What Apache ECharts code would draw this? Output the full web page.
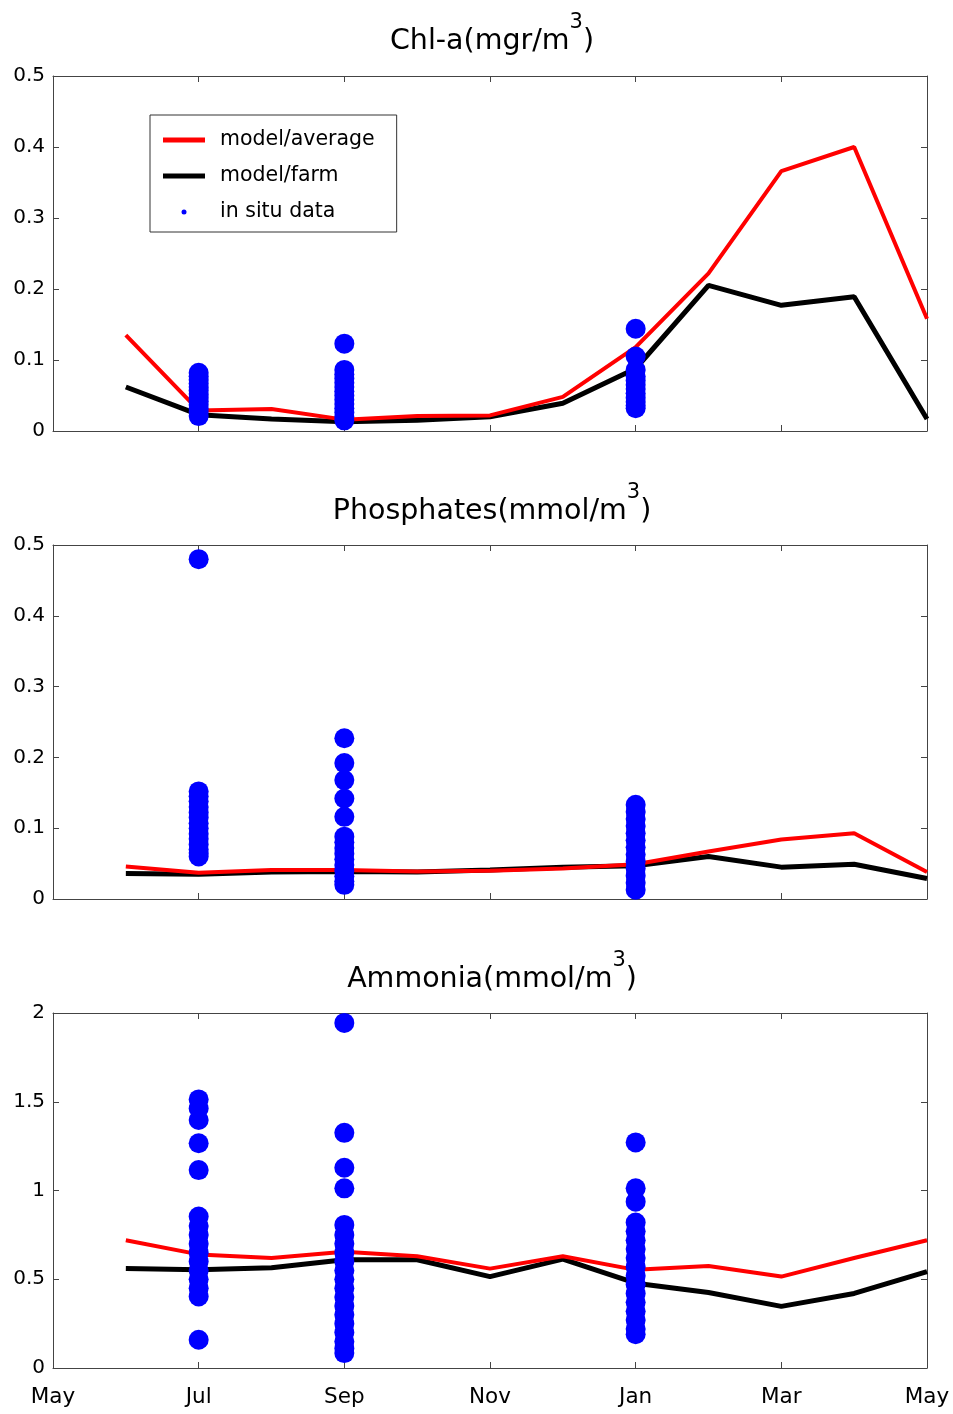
<!DOCTYPE html>
<html>
<head>
<meta charset="utf-8">
<script src="https://cdn.jsdelivr.net/npm/echarts@6/dist/echarts.min.js"></script>
<style>
html,body{margin:0;padding:0;background:#fff;}
#chart{width:953px;height:1414px;}
</style>
</head>
<body>
<div id="chart"></div>
<script>
// x positions: 0 = May, 1 = Jun, ... 12 = May (next year)
const tickLabels = ['May', 'Jul', 'Sep', 'Nov', 'Jan', 'Mar', 'May'];
const modelMonths = [1, 2, 3, 4, 5, 6, 7, 8, 9, 10, 11, 12];
const sampleMonths = [2, 4, 8]; // Jul, Sep, Jan

// Chl-a (mgr/m3)
const chlAvg  = [0.135, 0.029, 0.031, 0.016, 0.021, 0.022, 0.048, 0.118, 0.222, 0.366, 0.400, 0.158];
const chlFarm = [0.062, 0.023, 0.017, 0.013, 0.015, 0.020, 0.039, 0.088, 0.205, 0.177, 0.189, 0.017];
const chlJul = [0.082, 0.077, 0.072, 0.067, 0.062, 0.057, 0.052, 0.047, 0.042, 0.037, 0.032, 0.027, 0.021];
const chlSep = [0.123, 0.086, 0.080, 0.074, 0.068, 0.062, 0.056, 0.050, 0.044, 0.038, 0.032, 0.026, 0.020, 0.015];
const chlJan = [0.144, 0.105, 0.086, 0.077, 0.071, 0.065, 0.059, 0.053, 0.047, 0.041, 0.036, 0.032];

// Phosphates (mmol/m3)
const phoAvg  = [0.046, 0.037, 0.041, 0.041, 0.039, 0.040, 0.043, 0.049, 0.067, 0.084, 0.093, 0.038];
const phoFarm = [0.036, 0.035, 0.038, 0.039, 0.038, 0.041, 0.045, 0.047, 0.060, 0.045, 0.049, 0.029];
const phoJul = [0.480, 0.152, 0.145, 0.138, 0.130, 0.122, 0.115, 0.107, 0.100, 0.092, 0.085, 0.077, 0.070, 0.065, 0.060];
const phoSep = [0.227, 0.192, 0.168, 0.142, 0.116, 0.088, 0.080, 0.072, 0.064, 0.056, 0.048, 0.040, 0.032, 0.025, 0.020];
const phoJan = [0.133, 0.123, 0.113, 0.103, 0.093, 0.083, 0.073, 0.063, 0.053, 0.043, 0.033, 0.023, 0.013];

// Ammonia (mmol/m3)
const nh4Avg  = [0.72, 0.64, 0.62, 0.655, 0.63, 0.56, 0.63, 0.553, 0.575, 0.515, 0.62, 0.72];
const nh4Farm = [0.56, 0.553, 0.565, 0.61, 0.61, 0.515, 0.613, 0.478, 0.425, 0.347, 0.42, 0.543];
const nh4Jul = [1.513, 1.462, 1.397, 1.266, 1.115, 0.853, 0.80, 0.75, 0.70, 0.65, 0.60, 0.55, 0.50, 0.45, 0.403, 0.159];
const nh4Sep = [1.944, 1.325, 1.128, 1.012, 0.806, 0.75, 0.70, 0.65, 0.60, 0.55, 0.50, 0.45, 0.40, 0.35, 0.30, 0.25, 0.20, 0.15, 0.11, 0.084];
const nh4Jan = [1.271, 1.012, 0.937, 0.82, 0.77, 0.72, 0.67, 0.62, 0.57, 0.52, 0.47, 0.42, 0.37, 0.32, 0.27, 0.22, 0.19];

const FONT = 'DejaVu Sans';
const AXIS_COLOR = '#444';

const panels = [
  { name: 'Chl-a(mgr/m', top: 76, height: 355, max: 0.5, interval: 0.1, avg: chlAvg, farm: chlFarm, obs: [chlJul, chlSep, chlJan], titleTop: 7 },
  { name: 'Phosphates(mmol/m', top: 545, height: 354, max: 0.5, interval: 0.1, avg: phoAvg, farm: phoFarm, obs: [phoJul, phoSep, phoJan], titleTop: 477 },
  { name: 'Ammonia(mmol/m', top: 1013, height: 355, max: 2, interval: 0.5, avg: nh4Avg, farm: nh4Farm, obs: [nh4Jul, nh4Sep, nh4Jan], titleTop: 945 }
];

const grids = [], xAxes = [], yAxes = [], series = [], titles = [];
panels.forEach((p, i) => {
  grids.push({ left: 53, top: p.top, width: 874, height: p.height });
  const tick = { show: true, inside: true, length: 6, lineStyle: { color: AXIS_COLOR } };
  const line = { show: true, onZero: false, lineStyle: { color: AXIS_COLOR, width: 1 } };
  xAxes.push({
    gridIndex: i, type: 'value', min: 0, max: 12, interval: 2, position: 'bottom',
    axisLine: line, axisTick: tick, splitLine: { show: false },
    axisLabel: {
      show: i === 2, margin: 18, color: '#000', fontSize: 21.5, fontFamily: FONT,
      formatter: v => tickLabels[v / 2]
    }
  });
  xAxes.push({
    gridIndex: i, type: 'value', min: 0, max: 12, interval: 2, position: 'top',
    axisLine: line, axisTick: tick, splitLine: { show: false }, axisLabel: { show: false }
  });
  yAxes.push({
    gridIndex: i, type: 'value', min: 0, max: p.max, interval: p.interval, position: 'left',
    axisLine: line, axisTick: tick, splitLine: { show: false },
    axisLabel: { color: '#000', fontSize: 20, fontFamily: FONT, margin: 8 }
  });
  yAxes.push({
    gridIndex: i, type: 'value', min: 0, max: p.max, interval: p.interval, position: 'right',
    axisLine: line, axisTick: tick, splitLine: { show: false }, axisLabel: { show: false }
  });
  const xi = 2 * i, yi = 2 * i;
  series.push({
    name: 'model/average', type: 'line', xAxisIndex: xi, yAxisIndex: yi,
    data: modelMonths.map((m, k) => [m, p.avg[k]]),
    symbol: 'none', lineStyle: { color: '#ff0000', width: 4 }, itemStyle: { color: '#ff0000' }, z: 3
  });
  series.push({
    name: 'model/farm', type: 'line', xAxisIndex: xi, yAxisIndex: yi,
    data: modelMonths.map((m, k) => [m, p.farm[k]]),
    symbol: 'none', lineStyle: { color: '#000000', width: 5 }, itemStyle: { color: '#000000' }, z: 2
  });
  const pts = [];
  p.obs.forEach((vals, j) => vals.forEach(v => pts.push([sampleMonths[j], v])));
  series.push({
    name: 'in situ data', type: 'scatter', xAxisIndex: xi, yAxisIndex: yi,
    data: pts, symbol: 'circle', symbolSize: 20, itemStyle: { color: '#0000ff', opacity: 1 }, z: 4
  });
  titles.push({
    text: '{a|' + p.name + '}{s|3}{a|)}',
    left: 487, textAlign: 'center', top: p.titleTop,
    textStyle: {
      rich: {
        a: { fontSize: 28.5, fontFamily: FONT, color: '#000', lineHeight: 60, fontWeight: 'normal' },
        s: { fontSize: 21, fontFamily: FONT, color: '#000', verticalAlign: 'top', fontWeight: 'normal' }
      }
    }
  });
});

const chart = echarts.init(document.getElementById('chart'), null, { renderer: 'canvas' });
chart.setOption({
  animation: false,
  backgroundColor: '#fff',
  title: titles,
  legend: {
    left: 150, top: 115, orient: 'vertical',
    backgroundColor: '#fff',
    borderColor: '#333', borderWidth: 1,
    padding: [14, 22, 9, 13],
    itemGap: 14, itemWidth: 42, itemHeight: 5,
    textStyle: { fontSize: 20.5, fontFamily: FONT, color: '#000', padding: [0, 0, 0, 10], lineHeight: 22 },
    data: [
      { name: 'model/average', icon: 'rect' },
      { name: 'model/farm', icon: 'rect' },
      { name: 'in situ data', icon: 'circle' }
    ]
  },
  grid: grids,
  xAxis: xAxes,
  yAxis: yAxes,
  series: series
});
</script>
</body>
</html>
